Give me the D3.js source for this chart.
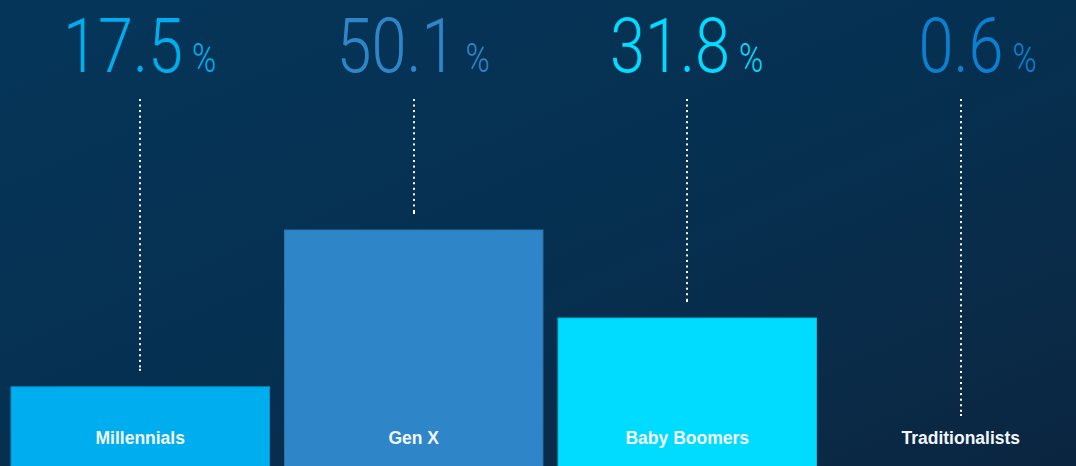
<!DOCTYPE html>
<html><head><meta charset="utf-8">
<script src="https://cdn.jsdelivr.net/npm/d3@7/dist/d3.min.js"></script>
<style>
html,body{margin:0;padding:0;background:#06304f;}
svg{display:block;}
</style></head>
<body>
<svg id="chart" width="1076" height="466"></svg>
<script>
const categories = ["Millennials", "Gen X", "Baby Boomers", "Traditionalists"];
const values = [17.5, 50.1, 31.8, 0.6];
const valueLabels = ["17.5", "50.1", "31.8", "0.6"];
const colors = ["#00aeef", "#2e86c8", "#00dcff", "#0b80d2"];

const W = 1076, H = 466;
const svg = d3.select("#chart");
const defs = svg.append("defs");
const g = defs.append("linearGradient").attr("id","bg")
  .attr("x1","0").attr("y1","0").attr("x2","1").attr("y2","1");
g.append("stop").attr("offset","0").attr("stop-color","#05365a");
g.append("stop").attr("offset","0.55").attr("stop-color","#062f4f");
g.append("stop").attr("offset","0.8").attr("stop-color","#0a2b48");
g.append("stop").attr("offset","1").attr("stop-color","#0a2540");
svg.append("rect").attr("width",W).attr("height",H).attr("fill","url(#bg)");

const x = d3.scaleBand().domain(categories).range([11, 1090]).paddingInner(0.055).paddingOuter(0);
const y = d3.scaleLinear().domain([0, d3.max(values)]).range([471, 230]);

const data = categories.map((c,i)=>({c, v:values[i], lab:valueLabels[i], col:colors[i]}));

// bars
svg.selectAll("rect.bar").data(data).join("rect").attr("class","bar")
  .attr("x", d=>x(d.c)).attr("width", x.bandwidth())
  .attr("y", d=>y(d.v)).attr("height", d=>y(0)-y(d.v)+5)
  .attr("fill", d=>d.col)
  .attr("stroke", d=>d3.color(d.col).darker(0.4)).attr("stroke-width",1);

// dotted leader lines
const lineTop = 100, labelLimit = 415, gap = 17, step = 5.55;
data.forEach(d=>{
  const cx = Math.round(x(d.c) + x.bandwidth()/2);
  const end = Math.min(y(d.v) - gap, labelLimit);
  const ys = d3.range(lineTop, end, step);
  ys.push(end);
  svg.append("g").selectAll("rect").data(ys).join("rect")
    .attr("x", cx-1).attr("y", v=>v-1).attr("width",2).attr("height",2)
    .attr("fill","#ffffff");
});

// big value labels
const sx = 0.83;
data.forEach(d=>{
  const cx = x(d.c) + x.bandwidth()/2;
  const grp = svg.append("g").attr("transform", `translate(${cx+76},72)`);
  const pct = grp.append("text").text("%")
    .attr("text-anchor","end")
    .attr("font-family","Roboto, 'Open Sans', sans-serif")
    .attr("font-weight",300).attr("font-size",41)
    .attr("transform","scale(0.8,1)")
    .attr("fill", d.col);
  const pw = pct.node().getComputedTextLength()*0.8;
  grp.append("text").text(d.lab)
    .attr("text-anchor","end")
    .attr("font-family","Roboto, 'Open Sans', sans-serif")
    .attr("font-weight",300).attr("font-size",76)
    .attr("transform",`translate(${-pw-9},0) scale(${sx},1)`)
    .attr("fill", d.col);
});

// category labels
svg.selectAll("text.cat").data(data).join("text").attr("class","cat")
  .attr("x", d=>x(d.c)+x.bandwidth()/2).attr("y", 444)
  .attr("text-anchor","middle")
  .attr("font-family","'Liberation Sans', Arial, sans-serif")
  .attr("font-weight","bold").attr("font-size",17.5)
  .attr("fill","#f2f6fa")
  .text(d=>d.c);
</script>
</body></html>
